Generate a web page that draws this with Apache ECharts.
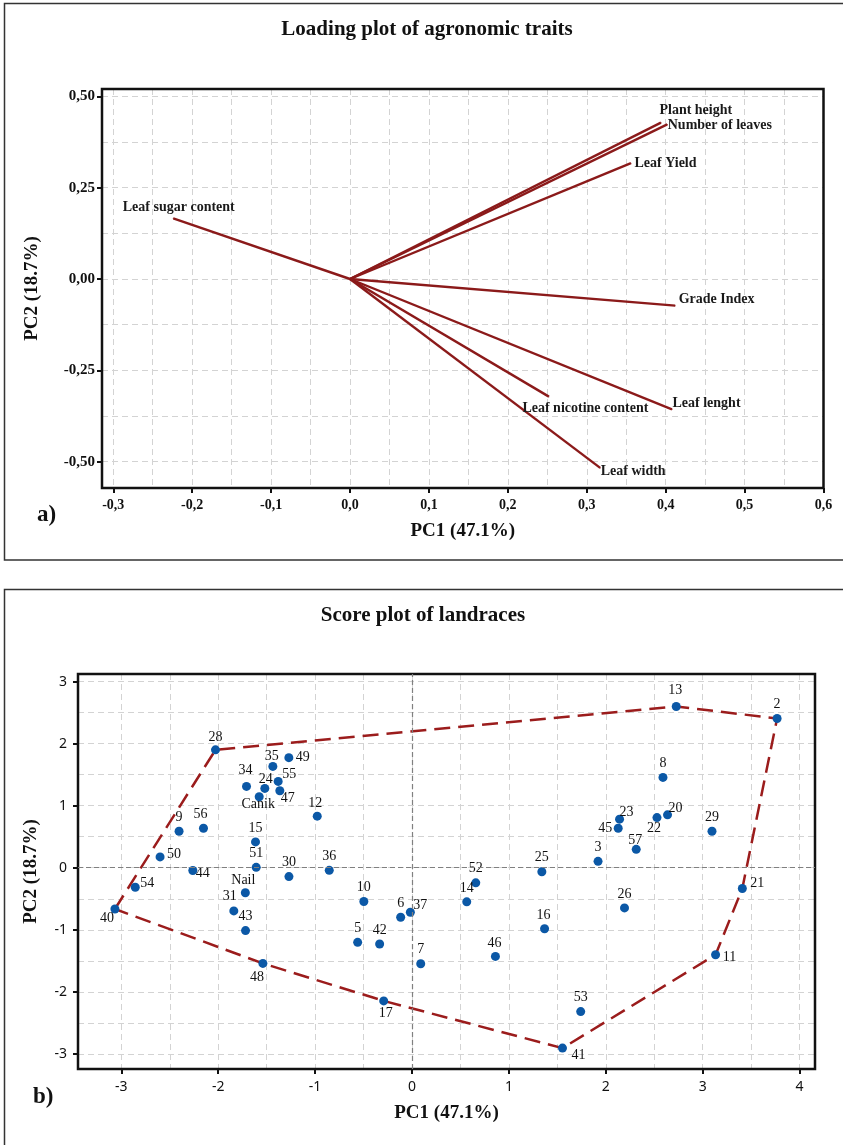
<!DOCTYPE html>
<html>
<head>
<meta charset="utf-8">
<title>Loading plot and score plot</title>
<script src="https://cdn.jsdelivr.net/npm/echarts@6/dist/echarts.min.js"></script>
<style>
html, body { margin: 0; padding: 0; background: #fff; }
#chart { width: 843px; height: 1145px; }
</style>
</head>
<body>
<div id="chart"></div>
<script>
// a) loadings of the agronomic traits
var traitNames = ['Plant height', 'Number of leaves', 'Leaf Yield', 'Leaf sugar content',
    'Grade Index', 'Leaf lenght', 'Leaf nicotine content', 'Leaf width'];
var traitPC1 = [0.394, 0.402, 0.356, -0.224, 0.412, 0.408, 0.252, 0.317];
var traitPC2 = [0.428, 0.423, 0.317, 0.166, -0.073, -0.357, -0.322, -0.517];
var loadTicksX = [-0.3, -0.2, -0.1, 0, 0.1, 0.2, 0.3, 0.4, 0.5, 0.6];
var loadTicksY = [-0.5, -0.25, 0, 0.25, 0.5];

// b) scores of the landraces
var landraces = ['2', '3', '5', '6', '7', '8', '9', '10', '11', '12', '13', '14', '15', '16', '17',
    '20', '21', '22', '23', '24', '25', '26', '28', '29', '30', '31', '34', '35', '36', '37',
    '40', '41', '42', '43', '44', '45', '46', '47', '48', '49', '50', '51', '52', '53', '54',
    '55', '56', '57', 'Canik', 'Nail'];
var scorePC1 = [3.768, 1.92, -0.561, -0.117, 0.09, 2.59, -2.404, -0.497, 3.133, -0.978, 2.727, 0.565, -1.615, 1.368, -0.292,
    2.637, 3.409, 2.528, 2.142, -1.519, 1.34, 2.193, -2.028, 3.096, -1.27, -1.839, -1.708, -1.436, -0.854, -0.017,
    -3.066, 1.553, -0.334, -1.718, -2.262, 2.128, 0.861, -1.364, -1.539, -1.271, -2.6, -1.608, 0.658, 1.741, -2.856,
    -1.381, -2.152, 2.314, -1.577, -1.72];
var scorePC2 = [2.406, 0.103, -1.202, -0.798, -1.547, 1.456, 0.589, -0.544, -1.402, 0.831, 2.6, -0.55, 0.416, -0.984, -2.146,
    0.853, -0.334, 0.809, 0.783, 1.279, -0.065, -0.647, 1.9, 0.589, -0.143, -0.696, 1.311, 1.634, -0.042, -0.717,
    -0.665, -2.907, -1.23, -1.013, -0.045, 0.637, -1.429, 1.241, -1.542, 1.775, 0.175, 0.006, -0.243, -2.319, -0.315,
    1.392, 0.637, 0.297, 1.144, -0.403];
var hullOrder = ['40', '28', '13', '2', '21', '11', '41', '17', '48', '40'];
var scoreTicksX = [-3, -2, -1, 0, 1, 2, 3, 4];
var scoreTicksY = [-3, -2, -1, 0, 1, 2, 3];

// label placement (pixel shift of each label from its point)
var traitLabelShift = [[-2, -12], [0, 1], [3, 0], [-51, -11], [3, -6], [0, -6], [-27, 12], [0, 3]];
var scoreLabelShift = {
    '11': [14, 3], '12': [-2, -13], '13': [-1, -16], '17': [2, 12], '20': [8, -6], '21': [15, -5],
    '22': [-3, 11], '23': [7, -7], '24': [1, -9], '28': [0, -13], '34': [-1, -16], '35': [-1, -10],
    '37': [10, -7], '40': [-8, 9], '41': [16, 7], '44': [10, 3], '45': [-13, 0], '46': [-1, -13],
    '47': [8, 8], '48': [-6, 14], '49': [14, 0], '50': [14, -3], '54': [12, -4], '55': [11, -7],
    '56': [-3, -14], '57': [-1, -9], '31': [-4, -15], 'Canik': [-1, 8], 'Nail': [-2, -12], '16': [-1, -13]
};

var SERIF = '"Liberation Serif", "Times New Roman", serif';
var DARKRED = '#8b1a1a';
var GRIDLINE = {color: '#d3d3d3', type: [6, 4], width: 1};

// plot frames (px) and the data range they cover
var frameA = {left: 102, top: 89, width: 721.5, height: 399};
var extA = {x: [-0.3143, 0.6], y: [-0.572, 0.52]};
var frameB = {left: 78, top: 674, width: 737, height: 395};
var extB = {x: [-3.447, 4.159], y: [-3.244, 3.123]};

// grid that holds only the ticks of one axis, lined up with its frame
function tickGrid(frame, ext, ticks, dim) {
    var g = {left: frame.left, top: frame.top, width: frame.width, height: frame.height,
        containLabel: false, outerBoundsMode: 'none'};
    var lo = ticks[0], hi = ticks[ticks.length - 1], k;
    if (dim === 'x') {
        k = frame.width / (ext.x[1] - ext.x[0]);
        g.left = frame.left + (lo - ext.x[0]) * k;
        g.width = (hi - lo) * k;
    } else {
        k = frame.height / (ext.y[1] - ext.y[0]);
        g.top = frame.top + (ext.y[1] - hi) * k;
        g.height = (hi - lo) * k;
    }
    return g;
}
function frameGrid(frame) {
    return {left: frame.left, top: frame.top, width: frame.width, height: frame.height,
        show: true, borderColor: '#111', borderWidth: 2.5, backgroundColor: 'transparent',
        containLabel: false, outerBoundsMode: 'none', z: 5};
}
function frameAxis(idx, ext, name, gap) {
    return {type: 'value', gridIndex: idx, min: ext[0], max: ext[1],
        name: name, nameLocation: 'middle', nameGap: gap,
        nameTextStyle: {fontFamily: SERIF, fontWeight: 'bold', fontSize: 19, color: '#111'},
        axisLine: {show: false}, axisTick: {show: false}, axisLabel: {show: false}, splitLine: {show: false}};
}
function tickAxis(idx, ticks, fmt, labelStyle, margin) {
    return {type: 'value', gridIndex: idx, min: ticks[0], max: ticks[ticks.length - 1],
        interval: ticks[1] - ticks[0],
        axisLine: {show: false},
        axisTick: {show: true, length: 5, lineStyle: {color: '#111', width: 2}},
        axisLabel: Object.assign({formatter: fmt, margin: margin, color: '#111'}, labelStyle),
        splitLine: {show: true, lineStyle: GRIDLINE},
        minorTick: {show: false, splitNumber: 2},
        minorSplitLine: {show: true, lineStyle: GRIDLINE}};
}
function hiddenAxis(idx) {
    return {type: 'value', gridIndex: idx, show: false, min: 0, max: 1};
}
function comma(d) {
    return function (v) {
        if (Math.abs(v) < 1e-9) v = 0;
        return v.toFixed(d).replace('.', ',');
    };
}

var boldSerif = {fontFamily: SERIF, fontWeight: 'bold', fontSize: 14};
var plainSans = {fontFamily: '"Noto Sans", sans-serif', fontSize: 14};

var series = [];

// loading vectors
traitNames.forEach(function (name, i) {
    series.push({
        type: 'line', xAxisIndex: 0, yAxisIndex: 0, clip: false, silent: true,
        symbol: 'circle', symbolSize: 1, showSymbol: true,
        lineStyle: {color: DARKRED, width: 2.4}, itemStyle: {color: DARKRED},
        label: {show: false},
        data: [[0, 0], {
            value: [traitPC1[i], traitPC2[i]],
            label: {show: true, position: 'right', distance: 0, offset: traitLabelShift[i],
                formatter: name, fontFamily: SERIF, fontWeight: 'bold', fontSize: 14, color: '#1a1a1a'}
        }]
    });
});

// hull around the landraces, plus zero reference lines
series.push({
    type: 'line', xAxisIndex: 3, yAxisIndex: 3, silent: true, symbol: 'none', z: 3,
    lineStyle: {color: '#9b1c1c', width: 2.5, type: [16, 8]},
    data: hullOrder.map(function (id) {
        var i = landraces.indexOf(id);
        return [scorePC1[i], scorePC2[i]];
    }),
    markLine: {
        silent: true, symbol: ['none', 'none'], label: {show: false},
        lineStyle: {color: '#808080', type: [5, 3], width: 1.2},
        data: [{xAxis: 0}, {yAxis: 0}]
    }
});

// landrace scores
series.push({
    type: 'scatter', xAxisIndex: 3, yAxisIndex: 3, symbolSize: 9, z: 4,
    itemStyle: {color: '#0b58a6', opacity: 1},
    label: {show: true, position: 'inside', formatter: '{b}', color: '#111',
        fontFamily: SERIF, fontSize: 14, opacity: 1},
    data: landraces.map(function (id, i) {
        return {name: id, value: [scorePC1[i], scorePC2[i]],
            label: {offset: scoreLabelShift[id] || [0, -14]}};
    })
});

var option = {
    animation: false,
    backgroundColor: '#fff',
    grid: [
        frameGrid(frameA),
        tickGrid(frameA, extA, loadTicksX, 'x'),
        tickGrid(frameA, extA, loadTicksY, 'y'),
        frameGrid(frameB),
        tickGrid(frameB, extB, scoreTicksX, 'x'),
        tickGrid(frameB, extB, scoreTicksY, 'y')
    ],
    xAxis: [
        frameAxis(0, extA.x, 'PC1 (47.1%)', 34),
        tickAxis(1, loadTicksX, comma(1), boldSerif, 10),
        hiddenAxis(2),
        frameAxis(3, extB.x, 'PC1 (47.1%)', 35),
        tickAxis(4, scoreTicksX, null, plainSans, 11),
        hiddenAxis(5)
    ],
    yAxis: [
        frameAxis(0, extA.y, 'PC2 (18.7%)', 60),
        hiddenAxis(1),
        tickAxis(2, loadTicksY, comma(2), {fontFamily: SERIF, fontWeight: 'bold', fontSize: 15}, 7),
        frameAxis(3, extB.y, 'PC2 (18.7%)', 37),
        hiddenAxis(4),
        tickAxis(5, scoreTicksY, null, plainSans, 11)
    ],
    graphic: [
        {type: 'rect', silent: true, shape: {x: 4.5, y: 3.5, width: 860, height: 556.5},
            style: {fill: 'none', stroke: '#333', lineWidth: 1.5}},
        {type: 'rect', silent: true, shape: {x: 4.5, y: 589.5, width: 860, height: 600},
            style: {fill: 'none', stroke: '#333', lineWidth: 1.5}},
        {type: 'text', silent: true, x: 427, y: 30,
            style: {text: 'Loading plot of agronomic traits', font: 'bold 21px ' + SERIF,
                fill: '#111', align: 'center', verticalAlign: 'middle'}},
        {type: 'text', silent: true, x: 423, y: 616,
            style: {text: 'Score plot of landraces', font: 'bold 21px ' + SERIF,
                fill: '#111', align: 'center', verticalAlign: 'middle'}},
        {type: 'text', silent: true, x: 37, y: 515,
            style: {text: 'a)', font: 'bold 23px ' + SERIF, fill: '#111', verticalAlign: 'middle'}},
        {type: 'text', silent: true, x: 33, y: 1097,
            style: {text: 'b)', font: 'bold 23px ' + SERIF, fill: '#111', verticalAlign: 'middle'}}
    ],
    series: series
};

try {
    var chart = echarts.init(document.getElementById('chart'), null, {renderer: 'canvas'});
    chart.setOption(option);
} catch (e) {
    console.warn(e);
}
</script>
</body>
</html>
